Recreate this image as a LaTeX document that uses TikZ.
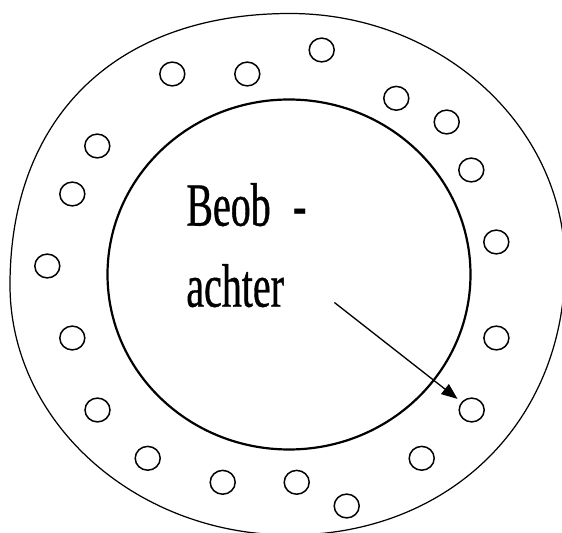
\documentclass[tikz,border=0pt]{standalone}
\usepackage{fontspec}
\usepackage{tikz}
\usetikzlibrary{shapes.geometric,arrows.meta}
\newfontfamily\beobfont[FakeStretch=0.65,FakeBold=0.6]{Liberation Serif}
\tikzset{
  hole/.style={
    shape = ellipse,
    draw,
    line width = 0.85pt,
    inner sep = 0pt,
    minimum width = 0.5cm,
    minimum height = 0.476cm
  },
  outerring/.style={
    line width = 0.7pt
  },
  innerring/.style={
    line width = 1.25pt
  },
  label/.style={
    font = \beobfont\fontsize{35}{46}\selectfont,
    inner sep = 0pt,
    anchor = base west
  },
  view/.style={
    line width = 0.75pt,
    -{Triangle[length=0.32cm, width=0.25cm]},
    shorten >= 0.1cm
  }
}

\begin{document}
\begin{tikzpicture}[x=0.02cm, y=-0.02cm]
        \useasboundingbox (0,0) rectangle (562,533);
        \clip (0,0) rectangle (562,533);
        % outer wall
        \draw[outerring] (290,13.5)
            .. controls (441.3,13.5) and (565,126.7) .. (565,265)
            .. controls (565,421.6) and (449.5,535) .. (290,535)
            .. controls (136,535) and (10,422.5) .. (10,285)
            .. controls (10,116.7) and (116.4,13.5) .. (290,13.5) -- cycle;
        % inner room
        \draw[innerring] (289,274.5) ellipse [x radius=181.5, y radius=175];
        \node[hole] (h1) at (321.7,50) {};
        \node[hole] (h2) at (172.3,74) {};
        \node[hole] (h3) at (247.3,74) {};
        \node[hole] (h4) at (396.3,98.3) {};
        \node[hole] (h5) at (446.7,122) {};
        \node[hole] (h6) at (97.3,146) {};
        \node[hole] (h7) at (471.3,170) {};
        \node[hole] (h8) at (72.3,194) {};
        \node[hole] (h9) at (496.3,242) {};
        \node[hole] (h10) at (47.3,266) {};
        \node[hole] (h11) at (496.4,338) {};
        \node[hole] (h12) at (72.3,338) {};
        \node[hole] (h13) at (97.5,410) {};
        \node[hole] (h14) at (471.7,410) {};
        \node[hole] (h15) at (147.7,458.3) {};
        \node[hole] (h16) at (421.7,458.3) {};
        \node[hole] (h17) at (222.7,482.3) {};
        \node[hole] (h18) at (296.7,482.3) {};
        \node[hole] (h19) at (346.7,506) {};
        \node[label] (beob) at (186,225.7) {Beob\hspace{0.45cm}-};
        \node[label] (achter) at (186,306.7) {achter};
        \coordinate (eye) at (334.4,302.5);
        \draw[view] (eye) -- (h14);
    \end{tikzpicture}
\end{document}
